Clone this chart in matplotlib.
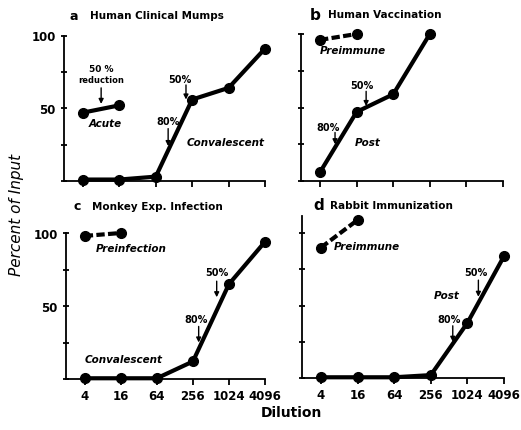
import numpy as np
import matplotlib
matplotlib.use('Agg')
import matplotlib.pyplot as plt

# data
dilution = [4, 16, 64, 256, 1024, 4096]
dil_labels = ['4', '16', '64', '256', '1024', '4096']

a_acute = [47, 52]
a_conv = [1, 1, 3, 56, 64, 91]
b_pre = [96, 100]
b_post = [6, 47, 59, 100]
c_pre = [98, 100]
c_conv = [0.5, 0.5, 0.5, 12, 65, 94]
d_pre = [90, 109]
d_post = [0.5, 0.5, 0.5, 2, 38, 84]

xpos = np.log(dilution) / np.log(4) - 1   # 0..5

plt.rcParams['font.family'] = ['DejaVu Sans']

fig = plt.figure(figsize=(5.21, 4.31), dpi=100)
W, H = 521, 431


def make_ax(left, right, bottom_px, top_lim=115, scale=1.455):
    h = top_lim * scale
    ax = fig.add_axes([left / W, (H - bottom_px) / H, (right - left) / W, h / H])
    ax.set_xlim(-0.52, 5)
    ax.set_ylim(0, top_lim)
    ax.patch.set_alpha(0)
    for s in ['top', 'right']:
        ax.spines[s].set_visible(False)
    ax.spines['left'].set_linewidth(1.3)
    ax.spines['bottom'].set_linewidth(1.3)
    ax.spines['left'].set_bounds(0, 100)
    ax.spines['bottom'].set_bounds(-0.52, 5)
    ax.set_xticks(xpos)
    ax.set_yticks([0, 25, 50, 75, 100])
    ax.tick_params(axis='x', direction='out', length=4, width=1.3)
    ax.tick_params(axis='y', direction='inout', length=5, width=1.3)
    ax.set_xticklabels([])
    ax.set_yticklabels([])
    return ax


def series(ax, x, y, dashed=False):
    ax.plot(x, y, color='black', lw=3.0, ls=(0, (2.0, 0.8)) if dashed else '-',
            marker='o', ms=7, clip_on=False, zorder=3)


def arrow(ax, x, y0, y1):
    ax.annotate('', xy=(x, y1), xytext=(x, y0),
                arrowprops=dict(arrowstyle='-|>', color='black', lw=1.0,
                                mutation_scale=7, shrinkA=0, shrinkB=0))


def label(ax, x, y, s, size=7, italic=False):
    ax.text(x, y, s, ha='center', va='center', fontsize=size, fontweight='bold',
            style='italic' if italic else 'normal')


def set_left_labels(ax):
    ax.set_yticklabels(['', '', '50', '', '100'], fontsize=8.5, fontweight='bold')


# a
ax_a = make_ax(64, 265, 182)
series(ax_a, xpos[:2], a_acute)
series(ax_a, xpos, a_conv)
set_left_labels(ax_a)
label(ax_a, 0.5, 77, '50 %', 6.5)
label(ax_a, 0.5, 70, 'reduction', 6)
arrow(ax_a, 0.5, 64, 53)
label(ax_a, 2.67, 70, '50%', 7)
arrow(ax_a, 2.83, 66, 56)
label(ax_a, 2.34, 41, '80%', 7)
arrow(ax_a, 2.34, 36, 24)
label(ax_a, 3.93, 27, 'Convalescent', 7.5, True)
label(ax_a, 0.61, 40, 'Acute', 7.5, True)
fig.text(70 / W, 1 - 16 / H, 'a', fontsize=9, fontweight='bold', va='center')
fig.text(90 / W, 1 - 16 / H, 'Human Clinical Mumps', fontsize=7.5, fontweight='bold', va='center')

# b
ax_b = make_ax(301, 503, 182, scale=1.47)
series(ax_b, xpos[:2], b_pre, dashed=True)
series(ax_b, xpos[:4], b_post)
label(ax_b, 1.15, 65, '50%', 7)
arrow(ax_b, 1.26, 61, 51)
label(ax_b, 0.22, 37, '80%', 7)
arrow(ax_b, 0.41, 33, 25)
label(ax_b, 1.29, 26.5, 'Post', 7.5, True)
label(ax_b, 0.9, 89, 'Preimmune', 7.5, True)
fig.text(310 / W, 1 - 15 / H, 'b', fontsize=11, fontweight='bold', va='center')
fig.text(328 / W, 1 - 15 / H, 'Human Vaccination', fontsize=7.5, fontweight='bold', va='center')

# c
ax_c = make_ax(66, 265, 380, scale=1.46)
series(ax_c, xpos[:2], c_pre, dashed=True)
series(ax_c, xpos, c_conv)
set_left_labels(ax_c)
ax_c.set_xticklabels(dil_labels, fontsize=8.5, fontweight='bold')
label(ax_c, 1.28, 90, 'Preinfection', 7.5, True)
label(ax_c, 1.07, 14, 'Convalescent', 7.5, True)
label(ax_c, 3.66, 73, '50%', 7)
arrow(ax_c, 3.66, 67, 56)
label(ax_c, 3.08, 41, '80%', 7)
arrow(ax_c, 3.16, 36, 25)
fig.text(74 / W, 1 - 207 / H, 'c', fontsize=9, fontweight='bold', va='center')
fig.text(92 / W, 1 - 207 / H, 'Monkey Exp. Infection', fontsize=7.5, fontweight='bold', va='center')

# d
ax_d = make_ax(302, 504, 379, scale=1.45)
ax_d.spines['left'].set_bounds(0, 112)
series(ax_d, xpos[:2], d_pre, dashed=True)
series(ax_d, xpos, d_post)
ax_d.set_xticklabels(dil_labels, fontsize=8.5, fontweight='bold')
label(ax_d, 1.26, 91, 'Preimmune', 7.5, True)
label(ax_d, 3.43, 57, 'Post', 7.5, True)
label(ax_d, 4.23, 73, '50%', 7)
arrow(ax_d, 4.3, 67.5, 56)
label(ax_d, 3.49, 41, '80%', 7)
arrow(ax_d, 3.6, 36, 25)
fig.text(313 / W, 1 - 206 / H, 'd', fontsize=11, fontweight='bold', va='center')
fig.text(330 / W, 1 - 206 / H, 'Rabbit Immunization', fontsize=7.5, fontweight='bold', va='center')

fig.text(291 / W, 1 - 413 / H, 'Dilution', fontsize=10, fontweight='bold', ha='center', va='center')
fig.text(17 / W, 1 - 215 / H, 'Percent of Input', fontsize=11, style='italic',
         rotation=90, ha='center', va='center')

fig.savefig('out.png', dpi=100)
